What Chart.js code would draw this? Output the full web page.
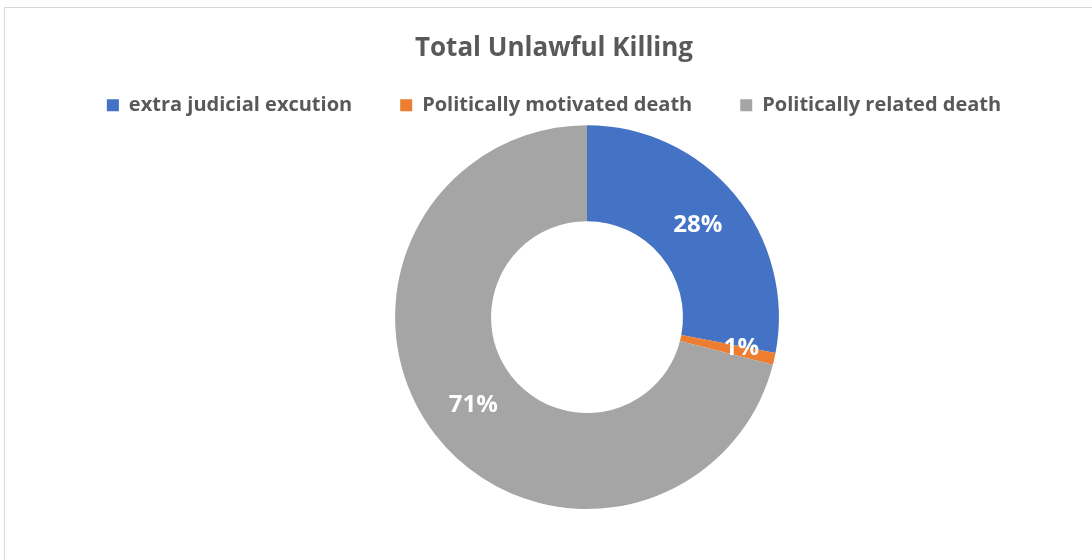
<!DOCTYPE html>
<html>
<head>
<meta charset="utf-8">
<title>Total Unlawful Killing</title>
<script src="https://cdn.jsdelivr.net/npm/chart.js@4/dist/chart.umd.min.js"></script>
<style>
  html, body { margin: 0; padding: 0; background: #fff; overflow: hidden; }
  #wrap { position: relative; width: 1092px; height: 560px; }
  #frame { position: absolute; left: 4px; top: 7px; width: 1120px; height: 600px; border: 1px solid #d9d9d9; }
  canvas { position: absolute; left: 0; top: 0; }
</style>
</head>
<body>
<div id="wrap">
  <div id="frame"></div>
  <canvas id="my-chart" width="1092" height="560"></canvas>
</div>
<script>
var killLabels = ['extra judicial excution', 'Politically motivated death', 'Politically related death'];
var killShares = [28, 1, 71];
var sliceColors = ['#4472C4', '#ED7D31', '#A5A5A5'];

var textGray = '#595959';
var fontName = '"Open Sans", "Noto Sans", sans-serif';

// pie sits a bit right of the title/legend centre, keep its size from the layout
var shiftPie = {
  id: 'shiftPie',
  afterLayout: function(chart) {
    var a = chart.chartArea;
    var cx = 587;
    var half = (a.bottom - a.top) / 2;
    a.left = cx - half;
    a.right = cx + half;
    a.width = a.right - a.left;
  }
};

// white percent labels in the middle of each ring slice
var sliceLabels = {
  id: 'sliceLabels',
  afterDatasetsDraw: function(chart) {
    var ctx = chart.ctx;
    var meta = chart.getDatasetMeta(0);
    ctx.save();
    ctx.fillStyle = '#ffffff';
    ctx.font = 'bold 24px ' + fontName;
    ctx.textAlign = 'center';
    ctx.textBaseline = 'middle';
    for (var i = 0; i < meta.data.length; i++) {
      var p = meta.data[i].getCenterPoint();
      var dx = (killShares[i] < 5) ? 14 : 0;
      ctx.fillText(killShares[i] + '%', p.x + dx, p.y);
    }
    ctx.restore();
  }
};

var ctx = document.getElementById('my-chart');
var killChart = new Chart(ctx, {
  type: 'doughnut',
  data: {
    labels: killLabels,
    datasets: [{
      data: killShares,
      backgroundColor: sliceColors,
      borderWidth: 0
    }]
  },
  options: {
    responsive: false,
    animation: false,
    cutout: '50%',
    layout: { padding: { top: 7, bottom: 51, left: 16, right: 0 } },
    plugins: {
      title: {
        display: true,
        text: 'Total Unlawful Killing',
        color: textGray,
        font: { family: fontName, size: 26, weight: 'bold' },
        // legend padding also pushes the row down, so pull it back up here
        padding: { top: 26, bottom: -17 }
      },
      legend: {
        display: true,
        position: 'top',
        labels: {
          color: textGray,
          font: { family: fontName, size: 20, weight: 'bold' },
          boxWidth: 12,
          boxHeight: 12,
          padding: 48
        }
      },
      tooltip: { enabled: false }
    }
  },
  plugins: [shiftPie, sliceLabels]
});
</script>
</body>
</html>
